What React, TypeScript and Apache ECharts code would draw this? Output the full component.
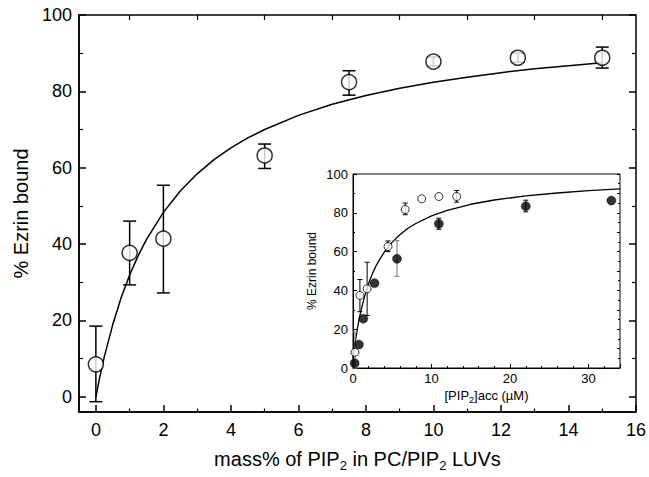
import React, { useEffect, useRef } from "react";
import * as echarts from "echarts";

// Main panel: open circles (mass% PIP2 vs % Ezrin bound)
const mainX = [0, 1, 2, 5, 7.5, 10, 12.5, 15];
const mainY = [8.5, 37.7, 41.4, 63.2, 82.4, 87.8, 88.8, 88.8];
const mainErrLow = [-1.3, 29.3, 27.2, 59.8, 79.0, 86.6, 87.6, 86.1];
const mainErrHigh = [18.5, 46.0, 55.4, 66.2, 85.4, 89.0, 90.0, 91.6];

// Main fit curve
const mainFitX = [0, 0.1, 0.25, 0.5, 0.75, 1, 1.25, 1.5, 2, 2.5, 3, 3.5, 4, 4.5, 5, 6, 7, 8, 9, 10, 11, 12, 13, 14, 15];
const mainFitY = [0, 4.5, 10.5, 18.9, 26.0, 31.9, 36.9, 41.2, 48.3, 53.9, 58.4, 62.1, 65.2, 67.8, 70.0, 73.7, 76.6, 78.9, 80.8, 82.4, 83.7, 84.9, 85.9, 86.7, 87.5];

// Inset: open circles
const insetOpenX = [0.25, 0.88, 1.8, 4.46, 6.65, 8.75, 10.93, 13.2];
const insetOpenY = [8.1, 37.4, 40.8, 62.6, 81.7, 87.2, 88.4, 88.4];
// Inset: filled circles
const insetFilledX = [0.21, 0.76, 1.31, 2.74, 5.6, 10.93, 22.0, 32.9];
const insetFilledY = [2.5, 12.1, 25.4, 43.7, 56.3, 74.3, 83.4, 86.3];

// Inset error bars [x, low, high]
const insetErrBlackX = [0.88, 1.8, 4.46, 6.65, 13.2, 10.93, 22.0];
const insetErrBlackLow = [29.0, 27.0, 60.0, 79.0, 85.5, 71.5, 80.5];
const insetErrBlackHigh = [45.6, 54.5, 65.5, 85.0, 91.5, 77.2, 86.5];
const insetErrGrayX = [0.25, 5.6];
const insetErrGrayLow = [0, 47.2];
const insetErrGrayHigh = [18.5, 65.7];

// Inset fit curve
const insetFitX = [0, 0.1, 0.25, 0.5, 0.75, 1, 1.5, 2, 2.5, 3, 4, 5, 6, 7, 8, 10, 12, 15, 18, 22, 26, 30, 34];
const insetFitY = [5, 8.2, 12.5, 18.9, 24.5, 29.3, 37.3, 43.7, 48.9, 53.2, 59.9, 64.9, 68.8, 72.0, 74.5, 78.4, 81.3, 84.4, 86.6, 88.7, 90.2, 91.4, 92.3];

// Tick values
const mainXMajor = [0, 2, 4, 6, 8, 10, 12, 14, 16];
const mainXMinor = [1, 3, 5, 7, 9, 11, 13, 15];
const mainYMajor = [0, 20, 40, 60, 80, 100];
const mainYMinor = [10, 30, 50, 70, 90];

const FONT = "Liberation Sans, Arial, Helvetica, sans-serif";

function errRender(cap: number, color: string, width: number) {
  return (params: any, api: any) => {
    const x = api.value(0);
    const lo = api.value(1);
    const hi = api.value(2);
    const p1 = api.coord([x, lo]);
    const p2 = api.coord([x, hi]);
    const style = { stroke: color, lineWidth: width };
    return {
      type: "group",
      children: [
        { type: "line", shape: { x1: p1[0], y1: p1[1], x2: p2[0], y2: p2[1] }, style },
        { type: "line", shape: { x1: p1[0] - cap / 2, y1: p1[1], x2: p1[0] + cap / 2, y2: p1[1] }, style },
        { type: "line", shape: { x1: p2[0] - cap / 2, y1: p2[1], x2: p2[0] + cap / 2, y2: p2[1] }, style },
      ],
    };
  };
}

export default function App() {
  const ref = useRef<HTMLDivElement>(null);
  useEffect(() => {
    if (!ref.current) return;
    const chart = echarts.init(ref.current, null, { renderer: "svg" });
    const axisLine = { show: true, onZero: false, lineStyle: { color: "#000", width: 1.5 } };
    const noLine = { show: false, onZero: false };
    const subRich = {
      n: { fontSize: 20, fontFamily: FONT, color: "#000", lineHeight: 26, verticalAlign: "middle" },
      s: { fontSize: 13, fontFamily: FONT, color: "#000", lineHeight: 14, verticalAlign: "bottom" },
    };
    const subRichSmall = {
      n: { fontSize: 13, fontFamily: FONT, color: "#000", lineHeight: 18, verticalAlign: "middle" },
      s: { fontSize: 9, fontFamily: FONT, color: "#000", lineHeight: 9, verticalAlign: "bottom" },
    };
    const option: any = {
      animation: false,
      backgroundColor: "#fff",
      grid: [
        { left: 79, right: 13, top: 15, bottom: 60, show: true, borderColor: "#000", borderWidth: 1.5, backgroundColor: "transparent" },
        { left: 353, top: 174, width: 267, height: 194, show: true, borderColor: "#000", borderWidth: 1, backgroundColor: "#fff" },
      ],
      xAxis: [
        {
          type: "value", gridIndex: 0, position: "bottom", min: -0.5, max: 16,
          axisLine, splitLine: { show: false },
          axisTick: { show: true, inside: true, length: 7, customValues: mainXMajor, lineStyle: { color: "#000", width: 1.5 } },
          axisLabel: { customValues: mainXMajor, fontSize: 18, fontFamily: FONT, color: "#000", margin: 9 },
          name: "{n|mass% of PIP}{s|2}{n| in PC/PIP}{s|2}{n| LUVs}",
          nameLocation: "middle", nameGap: 34,
          nameTextStyle: { rich: subRich },
        },
        {
          type: "value", gridIndex: 0, position: "bottom", min: -0.5, max: 16,
          axisLine: noLine, splitLine: { show: false },
          axisTick: { show: true, inside: true, length: 3.5, customValues: mainXMinor, lineStyle: { color: "#000", width: 1.2 } },
          axisLabel: { show: false },
        },
        {
          type: "value", gridIndex: 0, position: "top", min: -0.5, max: 16,
          axisLine: noLine, splitLine: { show: false },
          axisTick: { show: true, inside: true, length: 5, customValues: mainXMinor, lineStyle: { color: "#000", width: 1.2 } },
          axisLabel: { show: false },
        },
        {
          type: "value", gridIndex: 1, position: "bottom", min: 0, max: 34, interval: 10,
          axisLine: { show: true, onZero: false, lineStyle: { color: "#000", width: 1 } }, splitLine: { show: false },
          axisTick: { show: true, inside: true, length: 4, lineStyle: { color: "#000" } },
          minorTick: { show: true, splitNumber: 5, length: 2, lineStyle: { color: "#000" } },
          minorSplitLine: { show: false },
          axisLabel: { fontSize: 13, fontFamily: FONT, color: "#000", margin: 4, showMaxLabel: false },
          name: "{n|[PIP}{s|2}{n|]acc (µM)}",
          nameLocation: "middle", nameGap: 18,
          nameTextStyle: { rich: subRichSmall },
        },
      ],
      yAxis: [
        {
          type: "value", gridIndex: 0, position: "left", min: -4, max: 100,
          axisLine, splitLine: { show: false },
          axisTick: { show: true, inside: true, length: 7, customValues: mainYMajor, lineStyle: { color: "#000", width: 1.5 } },
          axisLabel: { customValues: mainYMajor, fontSize: 18, fontFamily: FONT, color: "#000", margin: 7 },
          name: "% Ezrin bound", nameLocation: "middle", nameGap: 48,
          nameTextStyle: { fontSize: 20, fontFamily: FONT, color: "#000" },
        },
        {
          type: "value", gridIndex: 0, position: "left", min: -4, max: 100,
          axisLine: noLine, splitLine: { show: false },
          axisTick: { show: true, inside: true, length: 4, customValues: mainYMinor, lineStyle: { color: "#000", width: 1.2 } },
          axisLabel: { show: false },
        },
        {
          type: "value", gridIndex: 0, position: "right", min: -4, max: 100,
          axisLine: noLine, splitLine: { show: false },
          axisTick: { show: true, inside: true, length: 7, customValues: mainYMajor, lineStyle: { color: "#000", width: 1.5 } },
          axisLabel: { show: false },
        },
        {
          type: "value", gridIndex: 0, position: "right", min: -4, max: 100,
          axisLine: noLine, splitLine: { show: false },
          axisTick: { show: true, inside: true, length: 4, customValues: mainYMinor, lineStyle: { color: "#000", width: 1.2 } },
          axisLabel: { show: false },
        },
        {
          type: "value", gridIndex: 1, position: "left", min: 0, max: 100, interval: 20,
          axisLine: { show: true, onZero: false, lineStyle: { color: "#000", width: 1 } }, splitLine: { show: false },
          axisTick: { show: true, inside: true, length: 4, lineStyle: { color: "#000" } },
          minorTick: { show: true, splitNumber: 2, length: 2, lineStyle: { color: "#000" } },
          minorSplitLine: { show: false },
          axisLabel: { fontSize: 13, fontFamily: FONT, color: "#000", margin: 5 },
          name: "% Ezrin bound", nameLocation: "middle", nameGap: 35,
          nameTextStyle: { fontSize: 12, fontFamily: FONT, color: "#000" },
        },
        {
          type: "value", gridIndex: 1, position: "right", min: 0, max: 100, interval: 10,
          axisLine: noLine, splitLine: { show: false },
          axisTick: { show: true, inside: true, length: 3, lineStyle: { color: "#000" } },
          minorTick: { show: true, splitNumber: 2, length: 2, lineStyle: { color: "#000" } },
          minorSplitLine: { show: false },
          axisLabel: { show: false },
        },
      ],
      series: [
        {
          type: "line", xAxisIndex: 0, yAxisIndex: 0,
          data: mainFitX.map((x, i) => [x, mainFitY[i]]),
          showSymbol: false, smooth: false,
          lineStyle: { color: "#000", width: 1.5 }, z: 2,
        },
        {
          type: "custom", xAxisIndex: 0, yAxisIndex: 0,
          renderItem: errRender(13, "#000", 1.5),
          data: mainX.map((x, i) => [x, mainErrLow[i], mainErrHigh[i]]),
          encode: { x: 0, y: [1, 2] }, z: 3,
        },
        {
          type: "scatter", xAxisIndex: 0, yAxisIndex: 0,
          data: mainX.map((x, i) => [x, mainY[i]]),
          symbol: "circle", symbolSize: 15,
          itemStyle: { color: "#fff", borderColor: "#000", borderWidth: 1.5 }, z: 4,
        },
        {
          type: "line", xAxisIndex: 3, yAxisIndex: 4,
          data: insetFitX.map((x, i) => [x, insetFitY[i]]),
          showSymbol: false, smooth: false,
          lineStyle: { color: "#000", width: 1.3 }, z: 5,
        },
        {
          type: "custom", xAxisIndex: 3, yAxisIndex: 4,
          renderItem: errRender(5, "#888", 1.2),
          data: insetErrGrayX.map((x, i) => [x, insetErrGrayLow[i], insetErrGrayHigh[i]]),
          encode: { x: 0, y: [1, 2] }, z: 6,
        },
        {
          type: "custom", xAxisIndex: 3, yAxisIndex: 4,
          renderItem: errRender(5, "#000", 1),
          data: insetErrBlackX.map((x, i) => [x, insetErrBlackLow[i], insetErrBlackHigh[i]]),
          encode: { x: 0, y: [1, 2] }, z: 6,
        },
        {
          type: "scatter", xAxisIndex: 3, yAxisIndex: 4,
          data: insetFilledX.map((x, i) => [x, insetFilledY[i]]),
          symbol: "circle", symbolSize: 9,
          itemStyle: { color: "#000", borderColor: "#000", borderWidth: 0.5 }, z: 7,
        },
        {
          type: "scatter", xAxisIndex: 3, yAxisIndex: 4,
          data: insetOpenX.map((x, i) => [x, insetOpenY[i]]),
          symbol: "circle", symbolSize: 8,
          itemStyle: { color: "#fff", borderColor: "#000", borderWidth: 1 }, z: 8,
        },
      ],
    };
    chart.setOption(option);
    return () => chart.dispose();
  }, []);
  return (
    <div
      ref={ref}
      style={{ position: "absolute", left: 0, top: 0, width: 649, height: 477, background: "#fff" }}
    />
  );
}
